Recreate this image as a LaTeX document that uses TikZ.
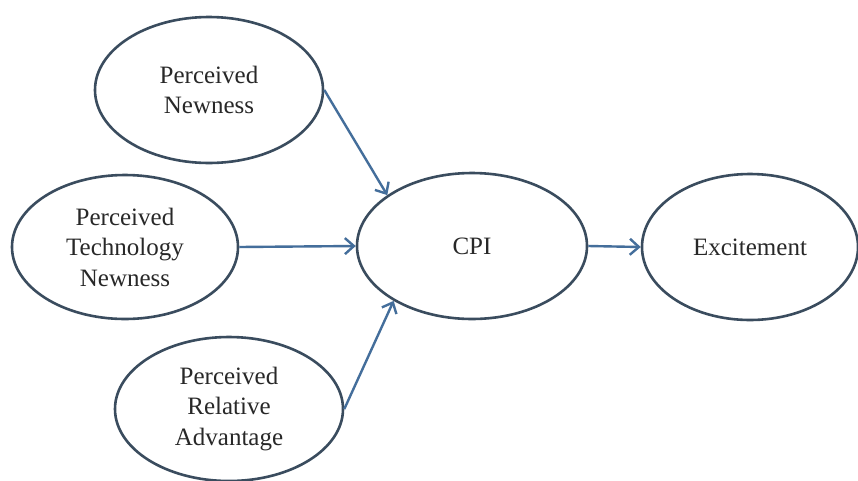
\documentclass[tikz,border=0pt]{standalone}
\usepackage{fontspec}
\setmainfont{Liberation Serif}
\usetikzlibrary{shapes.geometric,arrows.meta}
\definecolor{outl}{RGB}{58,76,94}
\definecolor{arr}{RGB}{68,110,155}
\definecolor{txt}{RGB}{40,40,40}
\tikzset{
  construct/.style={ellipse, draw=outl, line width=2.6pt, inner sep=0pt,
    minimum width=228pt, minimum height=146pt, align=center,
    text=txt, font=\fontsize{25}{30.5}\selectfont},
  link/.style={draw=arr, line width=2.4pt, -{Straight Barb[length=9pt,width=16pt,line width=2.4pt]}}
}
\begin{document}
\begin{tikzpicture}[x=1pt,y=-1pt]
\useasboundingbox[fill=white] (0,0) rectangle (858,480);
\node[construct] (pn) at (209,90) {Perceived\\Newness};
\node[construct, minimum width=226pt, minimum height=144pt] (ptn) at (125,247) {Perceived\\Technology\\Newness};
\node[construct, minimum height=144pt] (pra) at (229,409) {Perceived\\Relative\\Advantage};
\node[construct, minimum width=230pt] (cpi) at (472,246) {CPI};
\node[construct, minimum width=216pt] (exc) at (750,247) {Excitement};
\draw[link] (pn.east) -- (cpi.149);
\draw[link] (ptn.east) -- (cpi.west);
\draw[link] (pra.east) -- (cpi.215);
\draw[link] (cpi.east) -- (exc.west);
\end{tikzpicture}
\end{document}
